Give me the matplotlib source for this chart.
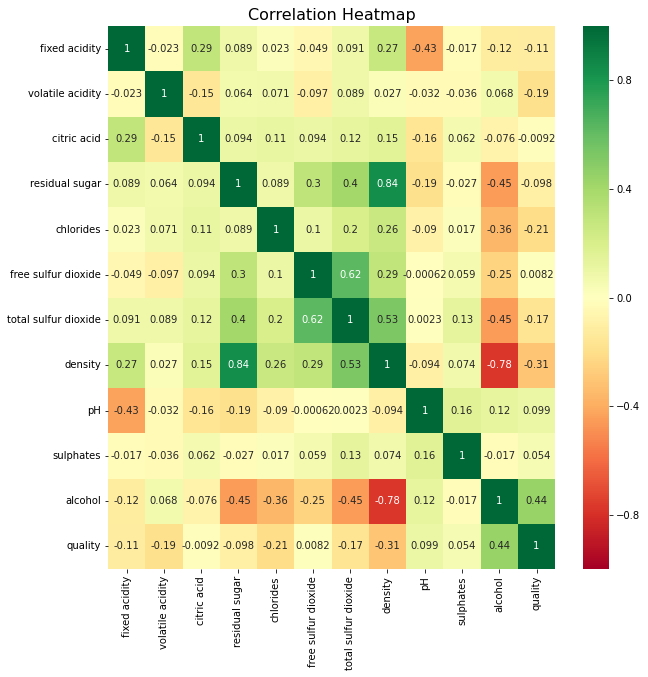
import numpy as np
import pandas as pd
import matplotlib
matplotlib.use("Agg")
import matplotlib.pyplot as plt
import seaborn as sns

features = ['fixed acidity', 'volatile acidity', 'citric acid', 'residual sugar',
            'chlorides', 'free sulfur dioxide', 'total sulfur dioxide', 'density',
            'pH', 'sulphates', 'alcohol', 'quality']

# correlation rows
fixed_acidity = [1, -0.023, 0.29, 0.089, 0.023, -0.049, 0.091, 0.27, -0.43, -0.017, -0.12, -0.11]
volatile_acidity = [-0.023, 1, -0.15, 0.064, 0.071, -0.097, 0.089, 0.027, -0.032, -0.036, 0.068, -0.19]
citric_acid = [0.29, -0.15, 1, 0.094, 0.11, 0.094, 0.12, 0.15, -0.16, 0.062, -0.076, -0.0092]
residual_sugar = [0.089, 0.064, 0.094, 1, 0.089, 0.3, 0.4, 0.84, -0.19, -0.027, -0.45, -0.098]
chlorides = [0.023, 0.071, 0.11, 0.089, 1, 0.1, 0.2, 0.26, -0.09, 0.017, -0.36, -0.21]
free_so2 = [-0.049, -0.097, 0.094, 0.3, 0.1, 1, 0.62, 0.29, -0.00062, 0.059, -0.25, 0.0082]
total_so2 = [0.091, 0.089, 0.12, 0.4, 0.2, 0.62, 1, 0.53, 0.0023, 0.13, -0.45, -0.17]
density = [0.27, 0.027, 0.15, 0.84, 0.26, 0.29, 0.53, 1, -0.094, 0.074, -0.78, -0.31]
ph = [-0.43, -0.032, -0.16, -0.19, -0.09, -0.00062, 0.0023, -0.094, 1, 0.16, 0.12, 0.099]
sulphates = [-0.017, -0.036, 0.062, -0.027, 0.017, 0.059, 0.13, 0.074, 0.16, 1, -0.017, 0.054]
alcohol = [-0.12, 0.068, -0.076, -0.45, -0.36, -0.25, -0.45, -0.78, 0.12, -0.017, 1, 0.44]
quality = [-0.11, -0.19, -0.0092, -0.098, -0.21, 0.0082, -0.17, -0.31, 0.099, 0.054, 0.44, 1]

corr = pd.DataFrame([fixed_acidity, volatile_acidity, citric_acid, residual_sugar,
                     chlorides, free_so2, total_so2, density, ph, sulphates,
                     alcohol, quality], index=features, columns=features)

fig = plt.figure(figsize=(9, 677 / 72), dpi=72)
ax = fig.add_axes([0.1667, 0.1595, 0.690, 0.802])
cax = fig.add_axes([0.8997, 0.1595, 0.040, 0.802])

sns.heatmap(corr, annot=True, cmap='RdYlGn', vmin=-1, vmax=1, ax=ax, cbar_ax=cax)
cax.set_yticks([-0.8, -0.4, 0.0, 0.4, 0.8])
ax.set_title('Correlation Heatmap', fontsize=16)

fig.savefig('out.png', dpi=72)
